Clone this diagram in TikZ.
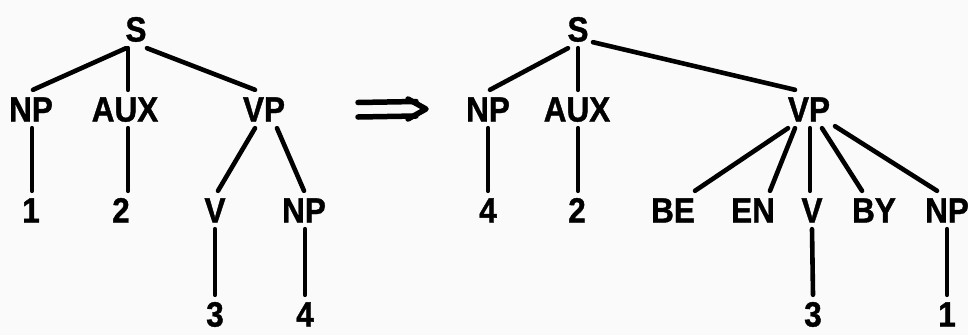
\documentclass[tikz,border=0pt]{standalone}
\usepackage{fontspec}
\setmainfont{Liberation Sans}
\newfontfamily\heavyfont{Liberation Sans Bold}[FakeBold=1.2]
\newcommand\lettr[1]{\scalebox{0.9}[1.0]{#1}}
\tikzset{
  lbl/.style={font=\fontsize{35}{35}\heavyfont, inner xsep=2pt, inner ysep=6.5pt,
              text height=25pt, text depth=0pt, anchor=center},
  br/.style={line width=4.6pt, line cap=round},
  arr/.style={line width=5.5pt, line cap=round, line join=round},
}
\begin{document}
\begin{tikzpicture}[x=1pt,y=-1pt]
\path[use as bounding box, fill=black!2] (0,0) rectangle (968,335);
% left tree
\node[lbl] (S1) at (136,29) {\lettr{S}};
\node[lbl] (NP1) at (31,109) {\lettr{NP}};
\node[lbl] (AUX1) at (125,109) {\lettr{AUX}};
\node[lbl] (VP1) at (264,109) {\lettr{VP}};
\node[lbl] (a1) at (31,210) {\lettr{1}};
\node[lbl] (a2) at (121,210) {\lettr{2}};
\node[lbl] (V1) at (215,210) {\lettr{V}};
\node[lbl] (NP1b) at (304,210) {\lettr{NP}};
\node[lbl] (a3) at (215,314) {\lettr{3}};
\node[lbl] (a4) at (305,314) {\lettr{4}};
\draw[br] ([xshift=-10pt]S1.south) -- ([xshift=2pt]NP1.north);
\draw[br] ([xshift=-8pt]S1.south) -- ([xshift=-8pt]S1.south |- AUX1.north);
\draw[br] ([xshift=11pt]S1.south) -- ([xshift=-9pt]VP1.north);
\draw[br] ([xshift=1pt]NP1.south) -- ([xshift=1pt]NP1.south |- a1.north);
\draw[br] ([xshift=3pt]AUX1.south) -- ([xshift=3pt]AUX1.south |- a2.north);
\draw[br] ([xshift=-9pt]VP1.south) -- ([xshift=3pt]V1.north);
\draw[br] ([xshift=13pt]VP1.south) -- (NP1b.north);
\draw[br] (V1.south) -- (a3.north);
\draw[br] ([xshift=1pt]NP1b.south) -- ([xshift=1pt]NP1b.south |- a4.north);
% arrow
\coordinate (arrS) at (358,110);
\coordinate (arrE) at (426,109);
\draw[arr] ([yshift=7.5pt]arrS) -- ([xshift=-10pt,yshift=7.5pt]arrE);
\draw[arr] ([yshift=-7pt]arrS) -- ([xshift=-10pt,yshift=-7pt]arrE);
\draw[arr] ([xshift=-18pt,yshift=10pt]arrE) -- (arrE) -- ([xshift=-18pt,yshift=-10pt]arrE);
% right tree
\node[lbl] (S2) at (578,29) {\lettr{S}};
\node[lbl] (NP2) at (488,109) {\lettr{NP}};
\node[lbl] (AUX2) at (577,109) {\lettr{AUX}};
\node[lbl] (VP2) at (809,109) {\lettr{VP}};
\node[lbl] (b4) at (488,210) {\lettr{4}};
\node[lbl] (b2) at (577,210) {\lettr{2}};
\node[lbl] (BE) at (673,210) {\lettr{BE}};
\node[lbl] (EN) at (753,210) {\lettr{EN}};
\node[lbl] (V2) at (812,210) {\lettr{V}};
\node[lbl] (BY) at (874,210) {\lettr{BY}};
\node[lbl] (NP2b) at (947,210) {\lettr{NP}};
\node[lbl] (b3) at (813,314) {\lettr{3}};
\node[lbl] (b1) at (947,314) {\lettr{1}};
\draw[br] ([xshift=-10pt]S2.south) -- ([xshift=2pt]NP2.north);
\draw[br] (S2.south) -- (S2.south |- AUX2.north);
\draw[br] ([xshift=15pt,yshift=6pt]S2.south) -- ([xshift=-14pt]VP2.north);
\draw[br] (NP2.south) -- (b4.north);
\draw[br] ([xshift=1pt]AUX2.south) -- ([xshift=1pt]AUX2.south |- b2.north);
\draw[br] ([xshift=-21pt]VP2.south) -- ([xshift=22pt]BE.north);
\draw[br] ([xshift=-14pt]VP2.south) -- ([xshift=17pt]EN.north);
\draw[br] ([xshift=1pt]VP2.south) -- ([xshift=1pt]VP2.south |- V2.north);
\draw[br] ([xshift=13pt]VP2.south) -- ([xshift=-12pt]BY.north);
\draw[br] ([xshift=26pt,yshift=2pt]VP2.south) -- ([xshift=-10pt]NP2b.north);
\draw[br] (V2.south) -- (b3.north);
\draw[br] (NP2b.south) -- (b1.north);
\end{tikzpicture}
\end{document}
